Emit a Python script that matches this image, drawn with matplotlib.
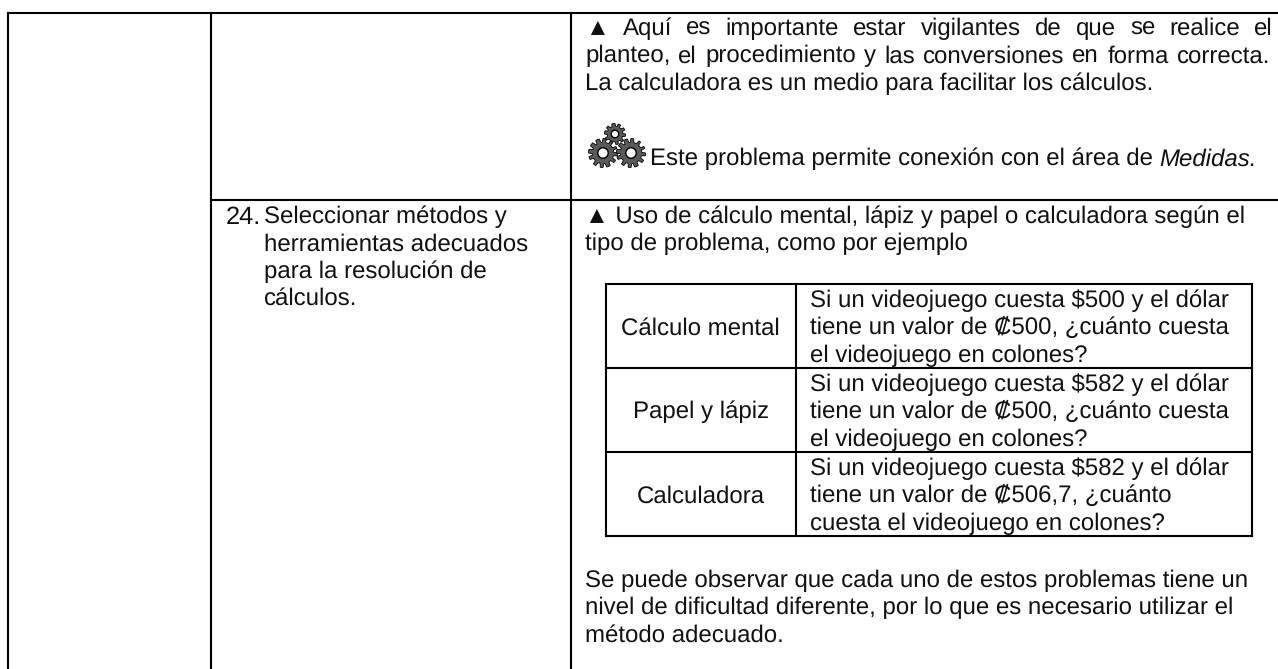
import numpy as np
import matplotlib
matplotlib.use("Agg")
import matplotlib.pyplot as plt

plt.rcParams["text.hinting"] = "no_hinting"

W, H = 1278, 669
FS = 17.3
FAM = ["Liberation Sans", "DejaVu Sans"]

outcome = ["Seleccionar métodos y", "herramientas adecuados", "para la resolución de", "cálculos."]
note_top = ["▲ Aquí es importante estar vigilantes de que se realice el",
            "planteo, el procedimiento y las conversiones en forma correcta."]
note_top_last = "La calculadora es un medio para facilitar los cálculos."
note_gear = "Este problema permite conexión con el área de "
note_gear_it = "Medidas."
note_use = ["▲ Uso de cálculo mental, lápiz y papel o calculadora según el",
            "tipo de problema, como por ejemplo"]
methods = ["Cálculo mental", "Papel y lápiz", "Calculadora"]
problems = [
    ["Si un videojuego cuesta $500 y el dólar", "tiene un valor de ₡500, ¿cuánto cuesta", "el videojuego en colones?"],
    ["Si un videojuego cuesta $582 y el dólar", "tiene un valor de ₡500, ¿cuánto cuesta", "el videojuego en colones?"],
    ["Si un videojuego cuesta $582 y el dólar", "tiene un valor de ₡506,7, ¿cuánto", "cuesta el videojuego en colones?"],
]
closing = ["Se puede observar que cada uno de estos problemas tiene un",
           "nivel de dificultad diferente, por lo que es necesario utilizar el",
           "método adecuado."]


def line(ax, xs, ys, lw=1.5):
    ax.plot(xs, ys, color="black", lw=lw, solid_capstyle="projecting", zorder=3)


def put(ax, x, y, s, **kw):
    return ax.text(x, y, s, fontsize=kw.pop("size", FS), family=FAM, va="baseline",
                   color="#111111", **kw)


def justified(ax, x0, x1, y, s):
    # spread the words so the line fills x0..x1
    words = s.split(" ")
    r = ax.figure.canvas.get_renderer()
    arts = [put(ax, 0, y, w) for w in words]
    widths = [a.get_window_extent(r).width for a in arts]
    gap = (x1 - x0 - sum(widths)) / (len(words) - 1)
    x = x0
    for a, w in zip(arts, widths):
        a.set_x(x)
        x += w + gap


def gear(ax, cx, cy, r, teeth):
    th = np.linspace(0, 2 * np.pi, teeth * 8, endpoint=False)
    rad = np.where((th * teeth / (2 * np.pi)) % 1 < 0.5, r, r * 0.74)
    ax.fill(cx + rad * np.cos(th), cy + rad * np.sin(th), fc="#5a5a5a", ec="black", lw=0.6, zorder=4)
    t = np.linspace(0, 2 * np.pi, 40)
    ax.fill(cx + r * 0.36 * np.cos(t), cy + r * 0.36 * np.sin(t), fc="white", ec="black", lw=1.0, zorder=5)


fig = plt.figure(figsize=(W / 100, H / 100), dpi=100)
ax = fig.add_axes([0, 0, 1, 1])
ax.set_xlim(0, W)
ax.set_ylim(H, 0)
ax.axis("off")

# outer table
line(ax, [8, W], [13, 13])
line(ax, [8, 8], [13, H])
line(ax, [211, 211], [13, H])
line(ax, [570.5, 570.5], [13, H])
line(ax, [211, W], [200, 200])

# top note
justified(ax, 585, 1273, 35, note_top[0])
justified(ax, 585, 1270, 62.5, note_top[1])
put(ax, 585, 90, note_top_last)
gear(ax, 615, 134, 10.5, 10)
gear(ax, 603, 153, 14.5, 12)
gear(ax, 631, 153, 14.5, 12)
t = put(ax, 650, 165.5, note_gear)
ax.figure.canvas.draw()
t1 = t.get_window_extent(ax.figure.canvas.get_renderer())
put(ax, t1.x1, 165.5, note_gear_it, style="italic")

# row 24
put(ax, 226, 224, "24.", size=FS + 1)
for i, s in enumerate(outcome):
    put(ax, 264, 223 + i * 27.3, s)

put(ax, 585, 223, note_use[0])
put(ax, 585, 250.5, note_use[1])

# inner table
tx0, tx1, tx2 = 605.5, 796, 1252
ty = [284, 368, 452, 536]
for y in ty:
    line(ax, [tx0, tx2], [y, y])
for x in (tx0, tx1, tx2):
    line(ax, [x, x], [ty[0], ty[-1]])
for i, m in enumerate(methods):
    put(ax, (tx0 + tx1) / 2, ty[i] + 50.5, m, ha="center")
    for j, s in enumerate(problems[i]):
        put(ax, 810.5, ty[i] + 23 + j * 27.3, s)

for i, s in enumerate(closing):
    put(ax, 585, 587 + i * 27.5, s)

fig.savefig("out.png", dpi=100)
